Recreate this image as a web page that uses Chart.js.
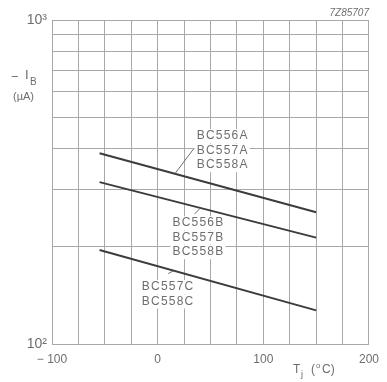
<!DOCTYPE html>
<html>
<head>
<meta charset="utf-8">
<script src="https://cdn.jsdelivr.net/npm/chart.js@4/dist/chart.umd.min.js"></script>
<style>
  html, body { margin: 0; padding: 0; background: #fff; }
  #wrap { width: 387px; height: 382px; }
</style>
</head>
<body>
<div id="wrap"><canvas id="ibChart"></canvas></div>
<script>
// Tj (deg C) at the ends of each curve
const tempC = [-55, 150];
// -IB (uA) for each transistor group
const groupA = [388, 255];
const groupB = [316, 213];
const groupC = [195, 127];
const seriesNames = ['BC556A/BC557A/BC558A', 'BC556B/BC557B/BC558B', 'BC557C/BC558C'];
const xTickLabels = { '-100': '\u2212 100', '0': '0', '100': '100', '200': '200' };
const yTickValues = [100, 200, 300, 400, 500, 600, 700, 800, 900, 1000];
const yTickLabels = { '100': '10\u00B2', '1000': '10\u00B3' };

// label blocks: [x, y] of first line in data units, text lines, leader line
const labelA = ['BC556A', 'BC557A', 'BC558A'];
const labelB = ['BC556B', 'BC557B', 'BC558B'];
const labelC = ['BC557C', 'BC558C'];
const blocks = [
  { at: [37, 438], lines: labelA, leader: [[34, 400], [16.5, 336]] },
  { at: [14, 236], lines: labelB, leader: [[35, 252], [40, 262]] },
  { at: [-15, 150], lines: labelC, leader: [[10, 165], [14.6, 168]] }
];

const textColor = '#6e6e6e';
const gridColor = '#a8a8a8';
const lineColor = '#3c3c3c';
const fontFam = '"Liberation Sans", Arial, sans-serif';

function pts(ys) {
  return tempC.map((t, i) => ({ x: t, y: ys[i] }));
}

const annotations = {
  id: 'annotations',
  afterDatasetsDraw(chart) {
    const ctx = chart.ctx;
    const xs = chart.scales.x, ys = chart.scales.y;
    ctx.save();
    ctx.fillStyle = textColor;
    ctx.strokeStyle = textColor;
    ctx.textBaseline = 'middle';

    // curve labels with white backing so the grid breaks around them
    ctx.font = '12px ' + fontFam;
    ctx.letterSpacing = '1.2px';
    blocks.forEach(b => {
      const x0 = xs.getPixelForValue(b.at[0]);
      const y0 = ys.getPixelForValue(b.at[1]);
      b.lines.forEach((s, i) => {
        const w = ctx.measureText(s).width;
        ctx.fillStyle = '#fff';
        ctx.fillRect(x0 - 2, y0 + i * 14.5 - 7, w + 3, 14);
      });
      ctx.fillStyle = textColor;
      b.lines.forEach((s, i) => {
        ctx.textAlign = 'left';
        ctx.fillText(s, x0, y0 + i * 14.5);
      });
      ctx.lineWidth = 1;
      ctx.beginPath();
      ctx.moveTo(xs.getPixelForValue(b.leader[0][0]), ys.getPixelForValue(b.leader[0][1]));
      ctx.lineTo(xs.getPixelForValue(b.leader[1][0]), ys.getPixelForValue(b.leader[1][1]));
      ctx.stroke();
    });
    ctx.letterSpacing = '0px';

    // figure code
    ctx.font = 'italic 10px ' + fontFam;
    ctx.textAlign = 'right';
    ctx.fillText('7Z85707', chart.chartArea.right, 13);

    // y axis title: -IB (uA)
    ctx.textAlign = 'left';
    ctx.font = '13px ' + fontFam;
    ctx.fillText('\u2212', 11, 77);
    ctx.fillText('I', 25, 75);
    ctx.font = '10px ' + fontFam;
    ctx.fillText('B', 30, 82);
    ctx.font = '11px ' + fontFam;
    ctx.fillText('(\u00B5A)', 13, 97);

    // x axis title: Tj (oC)
    ctx.font = '12px ' + fontFam;
    ctx.fillText('T', 293, 370);
    ctx.font = '9px ' + fontFam;
    ctx.fillText('j', 301, 375);
    ctx.font = '12px ' + fontFam;
    ctx.fillText('(', 311, 370);
    ctx.font = '8px ' + fontFam;
    ctx.fillText('o', 316, 366);
    ctx.font = '12px ' + fontFam;
    ctx.fillText('C)', 322, 370);
    ctx.restore();
  }
};

const ctx = document.getElementById('ibChart').getContext('2d');
const chart = new Chart(ctx, {
  type: 'scatter',
  data: {
    datasets: [groupA, groupB, groupC].map((ys, i) => ({
      label: seriesNames[i],
      data: pts(ys),
      showLine: true,
      borderColor: lineColor,
      borderWidth: 2,
      pointRadius: 0,
      fill: false
    }))
  },
  options: {
    responsive: true,
    maintainAspectRatio: false,
    animation: false,
    layout: { padding: { top: 20, right: 13, left: 0, bottom: 0 } },
    plugins: { legend: { display: false }, tooltip: { enabled: false } },
    scales: {
      x: {
        type: 'linear',
        min: -100,
        max: 200,
        afterFit(s) { s.height = 38; },
        border: { color: gridColor, width: 1 },
        grid: { color: gridColor, lineWidth: 1, drawTicks: false },
        ticks: {
          stepSize: 25,
          autoSkip: false,
          maxRotation: 0,
          padding: 8,
          color: textColor,
          font: { family: fontFam, size: 12 },
          callback: v => xTickLabels[String(v)] || ''
        }
      },
      y: {
        type: 'logarithmic',
        min: 100,
        max: 1000,
        afterFit(s) { s.width = 52; },
        afterBuildTicks(s) { s.ticks = yTickValues.map(v => ({ value: v })); },
        border: { color: gridColor, width: 1 },
        grid: { color: gridColor, lineWidth: 1, drawTicks: false },
        ticks: {
          autoSkip: false,
          padding: 5,
          color: textColor,
          font: { family: fontFam, size: 14 },
          callback: v => yTickLabels[String(v)] || ''
        }
      }
    }
  },
  plugins: [annotations]
});
</script>
</body>
</html>
